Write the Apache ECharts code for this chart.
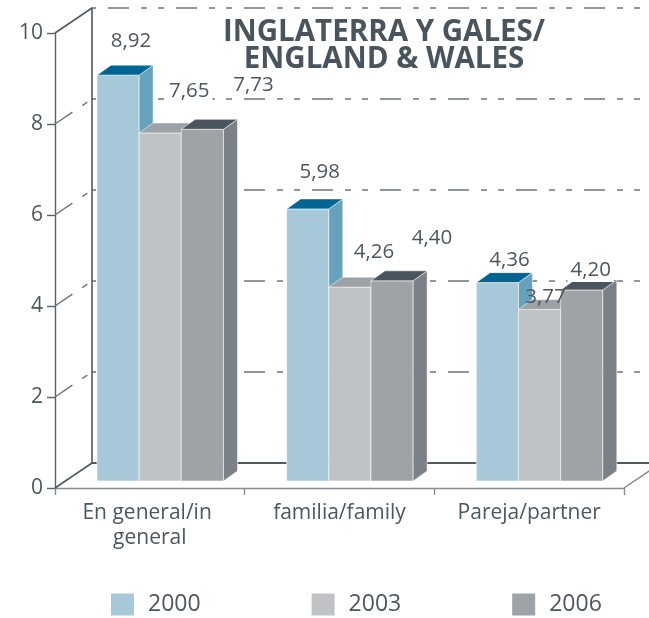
<!DOCTYPE html>
<html>
<head>
<meta charset="utf-8">
<script src="https://cdn.jsdelivr.net/npm/echarts@6/dist/echarts.min.js"></script>
<style>
  html, body { margin: 0; padding: 0; background: #ffffff; }
  #chart { width: 649px; height: 618px; }
</style>
</head>
<body>
<div id="chart"></div>
<script>
// ---- data ----
const categories = ['En general/in general', 'familia/family', 'Pareja/partner'];
const years = ['2000', '2003', '2006'];
const values2000 = [8.92, 5.98, 4.36];
const values2003 = [7.65, 4.26, 3.77];
const values2006 = [7.73, 4.40, 4.20];
const yTicks = [0, 2, 4, 6, 8, 10];
const titleLines = ['INGLATERRA Y GALES/', 'ENGLAND & WALES'];

// ---- layout & style ----
const FONT = '"Open Sans", "Noto Sans", sans-serif';
const TEXT = '#4d575f';
const FRONT = { left: 55, top: 33, width: 569, height: 455 };   // front plane of the box
const WALL = [37, -25];                                           // depth of the box (back wall offset)
const BAR_SHIFT = [10.4, -7];                                     // bars sit this far into the box
const BAR_DEPTH = [14, -10];                                      // depth of each bar
const CAT_GAP = 0.333;                                            // empty share of each category band
const DASH = [21, 12, 6, 11, 6, 12];

const seriesValues = [values2000, values2003, values2006];
const faceColors = [
  { front: '#a7c8d9', top: '#006591', side: '#67a2bd' },
  { front: '#bfc3c6', top: '#9da2a6', side: '#8d9398' },
  { front: '#9ea3a7', top: '#4b555d', side: '#7a8187' }
];
// label placement relative to the bar's front-top centre: [dx, dy, opaque background]
const labelNudge = [
  [[13, -34, 1], [12, -37, 1], [12, -22, 1]],
  [[29, -42, 1], [24, -35, 1], [6, -12, 0]],
  [[51, -44, 1], [40, -43, 1], [9, -20, 1]]
];

function fmt(v) { return v.toFixed(2).replace('.', ','); }

function barGeom(api, k) {
  const ci = api.value(0), v = api.value(1);
  const base = api.coord([ci, 0]);
  const top = api.coord([ci, v]);
  const band = api.size([1, 0])[0];
  const n = years.length;
  const bw = band * (1 - CAT_GAP) / n;
  const x0 = base[0] - bw * n / 2 + k * bw;
  return { ci, v, x0, x1: x0 + bw, y0: base[1], y1: top[1] };
}

function barRenderer(k) {
  const c = faceColors[k];
  const edge = { stroke: 'rgba(255,255,255,0.55)', lineWidth: 1 };
  return function (params, api) {
    const g = barGeom(api, k);
    const [dx, dy] = BAR_DEPTH;
    return {
      type: 'group',
      children: [
        { type: 'polygon', shape: { points: [[g.x0, g.y1], [g.x1, g.y1], [g.x1, g.y0], [g.x0, g.y0]] },
          style: Object.assign({ fill: c.front }, edge) },
        { type: 'polygon', shape: { points: [[g.x1, g.y1], [g.x1 + dx, g.y1 + dy], [g.x1 + dx, g.y0 + dy], [g.x1, g.y0]] },
          style: Object.assign({ fill: c.side }, edge) },
        { type: 'polygon', shape: { points: [[g.x0, g.y1], [g.x0 + dx, g.y1 + dy], [g.x1 + dx, g.y1 + dy], [g.x1, g.y1]] },
          style: Object.assign({ fill: c.top }, edge) }
      ]
    };
  };
}

function labelRenderer(k) {
  return function (params, api) {
    const g = barGeom(api, k);
    const nd = labelNudge[k][g.ci];
    return {
      type: 'text',
      x: (g.x0 + g.x1) / 2 + nd[0],
      y: g.y1 + nd[1],
      style: {
        text: fmt(g.v),
        fill: TEXT,
        fontSize: 20.5,
        fontFamily: FONT,
        align: 'center',
        verticalAlign: 'middle',
        backgroundColor: nd[2] ? '#ffffff' : 'transparent',
        padding: [1, 3, 2, 3]
      }
    };
  };
}

// depth edges of the box: solid at floor and top, dashed for the inner grid levels
function frameRenderer(params, api) {
  const v = api.value(0);
  const cs = params.coordSys;
  const y = api.coord([0, v])[1];
  const solid = (v === yTicks[0] || v === yTicks[yTicks.length - 1]);
  const style = solid
    ? { stroke: '#505a62', lineWidth: 1.6 }
    : { stroke: '#6f767c', lineWidth: 1.5, lineDash: DASH };
  const children = [
    { type: 'line', shape: { x1: cs.x, y1: y, x2: cs.x + WALL[0], y2: y + WALL[1] }, style }
  ];
  if (v === yTicks[0]) {
    children.push({ type: 'line',
      shape: { x1: cs.x + cs.width, y1: y, x2: cs.x + cs.width + WALL[0], y2: y + WALL[1] },
      style: { stroke: '#7d848a', lineWidth: 1.4 } });
  }
  return { type: 'group', children };
}

const gridFront = Object.assign({ outerBoundsMode: 'none', containLabel: false }, FRONT);
const gridBars = { outerBoundsMode: 'none', containLabel: false,
  left: FRONT.left + BAR_SHIFT[0], top: FRONT.top + BAR_SHIFT[1], width: FRONT.width, height: FRONT.height };
const gridBack = { outerBoundsMode: 'none', containLabel: false,
  left: FRONT.left + WALL[0], top: FRONT.top + WALL[1], width: FRONT.width, height: FRONT.height };

const yBase = { type: 'value', min: yTicks[0], max: yTicks[yTicks.length - 1], interval: yTicks[1] - yTicks[0] };

const series = [];
// frame edges
series.push({
  type: 'custom', name: 'frame', xAxisIndex: 0, yAxisIndex: 0, z: 1, silent: true,
  data: yTicks.map(v => [v]), encode: { y: 0 }, renderItem: frameRenderer
});
// bars, then their value labels on top
years.forEach((yr, k) => {
  series.push({
    type: 'custom', name: yr, xAxisIndex: 1, yAxisIndex: 1, z: 2,
    itemStyle: { color: faceColors[k].front },
    data: seriesValues[k].map((v, i) => [i, v]),
    encode: { x: 0, y: 1 },
    renderItem: barRenderer(k)
  });
});
years.forEach((yr, k) => {
  series.push({
    type: 'custom', name: yr, xAxisIndex: 1, yAxisIndex: 1, z: 3, silent: true,
    itemStyle: { color: faceColors[k].front },
    data: seriesValues[k].map((v, i) => [i, v]),
    encode: { x: 0, y: 1 },
    renderItem: labelRenderer(k)
  });
});

const option = {
  backgroundColor: '#ffffff',
  animation: false,
  grid: [gridFront, gridBars, gridBack],
  xAxis: [
    { type: 'category', gridIndex: 0, data: categories, boundaryGap: true,
      axisLine: { show: true, lineStyle: { color: '#858c92', width: 1.4 } },
      axisTick: { show: true, length: 7, inside: false, lineStyle: { color: '#858c92', width: 1.4 } },
      axisLabel: { interval: 0, margin: 13, color: TEXT, fontSize: 21, fontFamily: FONT,
        lineHeight: 25, width: 170, overflow: 'break' },
      splitLine: { show: false } },
    { type: 'category', gridIndex: 1, data: categories, show: false },
    { type: 'category', gridIndex: 2, data: categories,
      axisLine: { show: true, lineStyle: { color: '#4f5961', width: 2.2 } },
      axisTick: { show: false }, axisLabel: { show: false }, splitLine: { show: false } }
  ],
  yAxis: [
    Object.assign({ gridIndex: 0,
      axisLine: { show: true, lineStyle: { color: '#59626a', width: 1.4 } },
      axisTick: { show: true, length: 8, lineStyle: { color: '#59626a', width: 1.4 } },
      axisLabel: { margin: 12, color: TEXT, fontSize: 21, fontFamily: FONT },
      splitLine: { show: false } }, yBase),
    Object.assign({ gridIndex: 1, show: false }, yBase),
    Object.assign({ gridIndex: 2,
      axisLine: { show: true, lineStyle: { color: '#4f5961', width: 1.6 } },
      axisTick: { show: false }, axisLabel: { show: false },
      splitLine: { show: true, lineStyle: { color: '#6f767c', width: 1.6, type: DASH, dashOffset: 52 } } }, yBase)
  ],
  legend: {
    data: years,
    left: 111, top: 593,
    padding: 0,
    orient: 'horizontal',
    icon: 'rect',
    itemWidth: 23, itemHeight: 22,
    itemGap: 111,
    selectedMode: false,
    textStyle: { color: TEXT, fontSize: 23, fontFamily: FONT, width: 60, padding: [0, 0, 0, 9] }
  },
  graphic: [{
    type: 'text', x: 384, y: 19.5, z: 10,
    style: {
      text: titleLines.join('\n'),
      fill: '#4a545c',
      fontSize: 29.5, fontWeight: 'bold', fontFamily: FONT,
      lineHeight: 27, align: 'center', verticalAlign: 'top'
    }
  }],
  series
};

const chart = echarts.init(document.getElementById('chart'), null, { renderer: 'canvas' });
chart.setOption(option);
</script>
</body>
</html>
